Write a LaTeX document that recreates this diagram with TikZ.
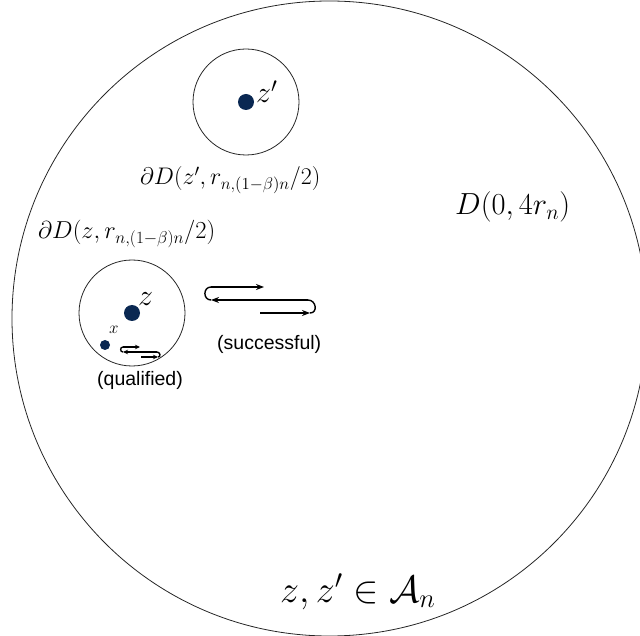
\RequirePackage{fix-cm}
\documentclass[tikz,border=0pt]{standalone}
\usepackage{fontspec}
\newfontfamily\hel{Liberation Sans}
\usetikzlibrary{arrows.meta}
\definecolor{navy}{RGB}{10,40,82}
\begin{document}
\begin{tikzpicture}[x=1pt,y=-1pt,
  ring/.style={circle, draw=black!85, line width=0.8pt, inner sep=0pt},
  dot/.style={circle, fill=navy, inner sep=0pt},
  mlab/.style={inner sep=0pt, anchor=base west},
  slab/.style={inner sep=0pt, anchor=base west, font=\hel\fontsize{19.5}{22}\selectfont},
  walk/.style={line width=1.4pt},
  tipA/.style={-{Stealth[length=8pt,width=6pt]}},
  tipB/.style={-{Stealth[length=5pt,width=4.5pt]}},
]
\useasboundingbox (0,0) rectangle (640,636);
\clip (0,0) rectangle (640,636);
\node[ring, minimum size=635pt] (big) at (329.5,318.5) {};
\node[ring, minimum size=106pt] (czp) at (246,102) {};
\node[ring, minimum size=106pt] (cz) at (132,313) {};
\node[dot, minimum size=16pt] (zp) at (246,102) {};
\node[dot, minimum size=16pt] (z) at (132,313) {};
\node[dot, minimum size=10pt] (x) at (105,345) {};
% labels
\node[mlab, font=\fontsize{30}{34}\selectfont] (lzp) at (256,103) {$z'$};
\node[mlab, font=\fontsize{30}{34}\selectfont] (lz) at (138,306) {$z$};
\node[mlab, font=\fontsize{17}{20}\selectfont] (lx) at (109,334) {$x$};
\node[mlab, font=\fontsize{24}{28}\selectfont] (lbzp) at (140,185) {$\partial D(z',r_{n,(1-\beta)n}/2)$};
\node[mlab, font=\fontsize{24.5}{28}\selectfont] (lbz) at (38,239) {$\partial D(z,r_{n,(1-\beta)n}/2)$};
\node[mlab, font=\fontsize{30.5}{34}\selectfont] (lbig) at (455,215) {$D(0,4r_n)$};
\node[mlab, font=\fontsize{38}{42}\selectfont] (lan) at (280,602) {$z,z'\in\mathcal{A}_n$};
\node[slab] (lsucc) at (217,349) {(successful)};
\node[slab] (lqual) at (97,385) {(qualified)};
% successful walk
\coordinate (s1) at (211,287);
\coordinate (s2) at (264,287);
\coordinate (s3) at (211,300);
\coordinate (s4) at (308,300);
\coordinate (s5) at (310,313);
\coordinate (s6) at (260,313);
\draw[walk,tipA] (s1) -- (s2);
\draw[walk] (s1) to[out=180,in=180,looseness=1.6] (s3);
\draw[walk,tipA] (s4) -- (s3);
\draw[walk] (s4) to[out=0,in=0,looseness=1.6] (s5);
\draw[walk,tipA] (s6) -- (s5);
% qualified walk
\coordinate (q1) at (123,347);
\coordinate (q2) at (140,347);
\coordinate (q3) at (123,352);
\coordinate (q4) at (157,352);
\coordinate (q5) at (158,357);
\coordinate (q6) at (141,357);
\draw[walk,tipB] (q1) -- (q2);
\draw[walk] (q1) to[out=180,in=180,looseness=1.6] (q3);
\draw[walk,tipB] (q4) -- (q3);
\draw[walk] (q4) to[out=0,in=0,looseness=1.6] (q5);
\draw[walk,tipB] (q6) -- (q5);
\end{tikzpicture}
\end{document}
